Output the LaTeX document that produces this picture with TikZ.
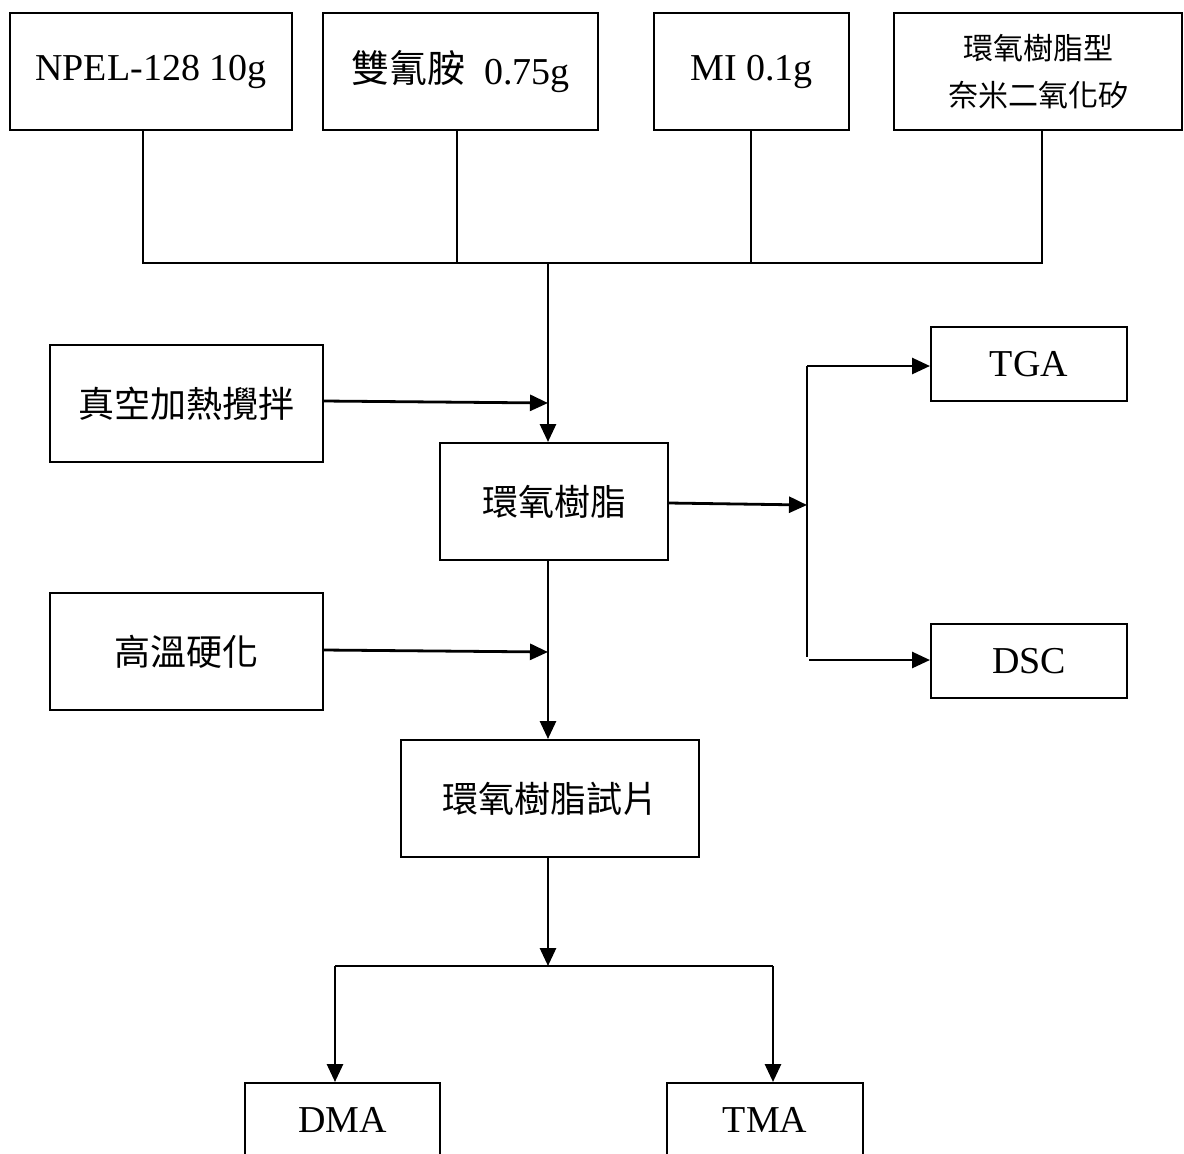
\documentclass[tikz,border=0pt]{standalone}
\usepackage{fontspec}
\setmainfont{Liberation Serif}
\newfontfamily\cjk{Noto Sans CJK TC}
\usetikzlibrary{arrows.meta}
\tikzset{
  box/.style={draw=black, line width=1pt, inner sep=0pt, align=center, font=\fontsize{19}{22}\selectfont},
  bigbox/.style={box, minimum height=58.5pt},
  smallbox/.style={box, minimum height=37pt},
  cjkbox/.style={bigbox, font=\fontsize{18}{22}\selectfont\cjk},
  link/.style={line width=1.1pt},
  flow/.style={line width=1.4pt, -{Triangle[length=9pt,width=8pt]}},
}
\begin{document}
\begin{tikzpicture}[x=0.5pt,y=-0.5pt]
\useasboundingbox (0,0) rectangle (1184,1153);
\clip (0,0) rectangle (1184,1153);
% top inputs
\node[bigbox, minimum width=141pt] (n1) at (151,71.5) {\raisebox{-2pt}{NPEL-128 10g}};
\node[bigbox, minimum width=137.5pt] (n2) at (460.5,71.5) {{\cjk 雙氰胺}\ \ \raisebox{-1pt}{0.75g}};
\node[bigbox, minimum width=97.5pt] (n3) at (751.5,71.5) {\raisebox{-2pt}{MI 0.1g}};
\node[bigbox, minimum width=144pt, font=\fontsize{15}{23.5}\selectfont\cjk] (n4) at (1038,71.5) {環氧樹脂型\\奈米二氧化矽};
% process
\node[cjkbox, minimum width=136.5pt] (mix) at (186.5,403.5) {真空加熱攪拌};
\node[cjkbox, minimum width=114pt] (resin) at (554,501.5) {環氧樹脂};
\node[cjkbox, minimum width=136.5pt] (cure) at (186.5,651.5) {高溫硬化};
\node[cjkbox, minimum width=149pt] (spec) at (550,798.5) {環氧樹脂試片};
% analyses
\node[smallbox, minimum width=98pt] (tga) at (1029,364) {TGA};
\node[smallbox, minimum width=98pt] (dsc) at (1029,661) {DSC};
\node[smallbox, minimum width=97.5pt] (dma) at (342.5,1120) {DMA};
\node[smallbox, minimum width=98pt] (tma) at (765,1120) {TMA};
% junction coordinates
\coordinate (b1) at (143,263);
\coordinate (b2) at (457,263);
\coordinate (b3) at (751,263);
\coordinate (b4) at (1042,263);
\coordinate (bm) at (548,263);
\coordinate (j1) at (548,403);
\coordinate (j2) at (548,652);
\coordinate (r1) at (807,366);
\coordinate (r2) at (807,505);
\coordinate (r3) at (807,657);
\coordinate (r4) at (809,660);
\coordinate (d0) at (548,966);
\coordinate (dl) at (335,966);
\coordinate (dr) at (773,966);
% top bus
\draw[link] (n1.south -| b1) -- (b1) -- (b4) -- (n4.south -| b4);
\draw[link] (n2.south -| b2) -- (b2);
\draw[link] (n3.south -| b3) -- (b3);
\draw[flow] (bm) -- (resin.north -| bm);
\draw[flow] (mix.east |- 0,401) -- (j1);
\draw[flow] (cure.east |- 0,650) -- (j2);
% resin to analyses
\draw[flow] (resin.east |- 0,503) -- (r2);
\draw[link, line width=1.4pt] (r1) -- (r3);
\draw[flow] (r1) -- (tga.west |- r1);
\draw[flow] (r4) -- (dsc.west |- r4);
% resin to specimen
\draw[flow] (resin.south -| bm) -- (spec.north -| bm);
\draw[flow] (spec.south -| bm) -- (d0);
\draw[link, line width=1.4pt] (dl) -- (dr);
\draw[flow] (dl) -- (dma.north -| dl);
\draw[flow] (dr) -- (tma.north -| dr);
\end{tikzpicture}
\end{document}
